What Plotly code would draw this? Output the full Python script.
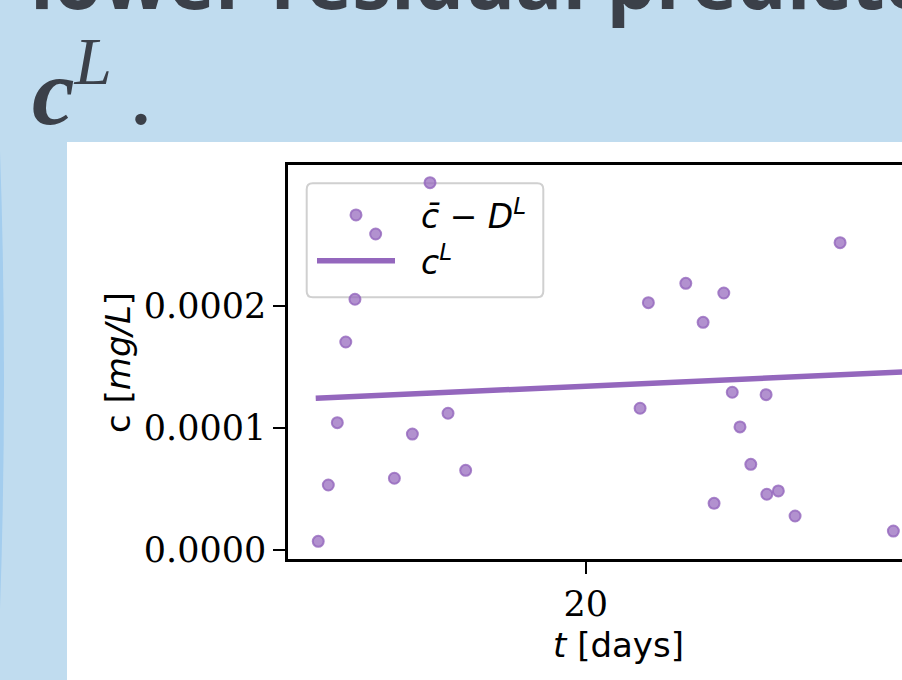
import plotly.graph_objects as go

# Observed concentration minus the lower-residual term, by day
t_days = [5.14, 5.70, 6.20, 6.67, 7.18, 8.33, 9.37, 10.37, 11.35, 12.35, 13.33,
          23.02, 23.48, 25.56, 26.52, 27.13, 27.67, 28.14, 28.57, 29.17, 30.02,
          30.06, 30.70, 31.63, 34.13, 37.09]
c_minus_DL = [0.071e-4, 0.532e-4, 1.042e-4, 1.702e-4, 2.052e-4, 2.586e-4, 0.587e-4,
              0.949e-4, 3.006e-4, 1.119e-4, 0.652e-4, 1.160e-4, 2.024e-4, 2.182e-4,
              1.863e-4, 0.382e-4, 2.103e-4, 1.291e-4, 1.007e-4, 0.701e-4, 1.271e-4,
              0.456e-4, 0.483e-4, 0.278e-4, 2.515e-4, 0.155e-4]

# Fitted lower component c^L
fit_t = [5.0, 40.0]
fit_c = [1.241e-4, 1.473e-4]

# Axis ticks
y_tickvals = [0.0, 1e-4, 2e-4]
y_ticktext = ["0.0000", "0.0001", "0.0002"]
x_tickvals = [20]
x_ticktext = ["20"]

W, H = 902, 680
PURPLE = "#9467bd"
BG_BLUE = "#c0dcef"
TEXT_DARK = "#3b4049"
NBSP = "\u00a0"
THIN = "\u2009"


def px(x):
    return x / W


def py(y):
    return 1 - y / H


def rounded_box(x0, y0, x1, y1, r):
    """SVG path (paper coords) for a rounded rectangle given in pixels."""
    pts = [
        ("M", [(x0 + r, y0)]),
        ("L", [(x1 - r, y0)]), ("Q", [(x1, y0), (x1, y0 + r)]),
        ("L", [(x1, y1 - r)]), ("Q", [(x1, y1), (x1 - r, y1)]),
        ("L", [(x0 + r, y1)]), ("Q", [(x0, y1), (x0, y1 - r)]),
        ("L", [(x0, y0 + r)]), ("Q", [(x0, y0), (x0 + r, y0)]),
    ]
    parts = []
    for cmd, coords in pts:
        parts.append(cmd + " " + " ".join(f"{px(a):.5f},{py(b):.5f}" for a, b in coords))
    return " ".join(parts) + " Z"


fig = go.Figure()

fig.add_trace(go.Scatter(
    x=t_days, y=c_minus_DL, mode="markers",
    name=NBSP * 2 + "<i>c̄</i> − <i>D</i><sup><i>L</i></sup>",
    marker=dict(size=11, color="rgba(148,103,189,0.72)",
                line=dict(color="rgba(148,103,189,0.8)", width=2)),
))
fig.add_trace(go.Scatter(
    x=fit_t, y=fit_c, mode="lines",
    name=NBSP * 2 + "<i>c</i><sup><i>L</i></sup>",
    line=dict(color=PURPLE, width=5.5),
))

axis_font = dict(family="DejaVu Serif", size=35, color="black")

fig.update_layout(
    width=W, height=H,
    margin=dict(l=0, r=0, t=0, b=0, autoexpand=False),
    paper_bgcolor=BG_BLUE,
    plot_bgcolor="white",
    showlegend=True,
    legend=dict(
        x=px(312), y=py(187), xanchor="left", yanchor="top",
        bgcolor="rgba(0,0,0,0)", borderwidth=0,
        font=dict(family="DejaVu Sans", size=33, color="black"),
        itemwidth=78,
    ),
    xaxis=dict(
        domain=[px(288), 1.0],
        range=[3.46, 37.57],
        tickvals=x_tickvals, ticktext=x_ticktext,
        tickfont=axis_font, automargin=False,
        ticks="outside", ticklen=12, tickwidth=2, tickcolor="black",
        showline=True, linecolor="black", linewidth=2.5, mirror=True,
        showgrid=False, zeroline=False,
    ),
    yaxis=dict(
        domain=[py(559), py(165)],
        range=[-0.0737e-4, 3.1506e-4],
        tickvals=y_tickvals, ticktext=y_ticktext,
        tickfont=axis_font, automargin=False,
        ticks="outside", ticklen=12, tickwidth=2, tickcolor="black",
        showline=True, linecolor="black", linewidth=2.5, mirror=False,
        showgrid=False, zeroline=False,
    ),
    shapes=[
        # white content panel
        dict(type="rect", xref="paper", yref="paper", layer="below",
             x0=px(67), x1=1.0, y0=0, y1=py(142),
             fillcolor="white", line=dict(width=0)),
        # thin accent along the left edge
        dict(type="path", xref="paper", yref="paper", layer="below",
             path=f"M 0,{py(150)} Q {px(8)},{py(380)} 0,{py(610)} Z",
             fillcolor="#a3cdee", line=dict(width=0)),
        # legend frame
        dict(type="path", xref="paper", yref="paper", layer="below",
             path=rounded_box(306.7, 183.3, 543.3, 297.3, 6),
             fillcolor="rgba(255,255,255,0.8)", line=dict(color="#d0d0d0", width=2)),
    ],
    annotations=[
        dict(text="<b>lower residual predicted</b>", xref="paper", yref="paper",
             x=px(28), y=py(34), xanchor="left", yanchor="bottom", showarrow=False,
             font=dict(family="Open Sans", size=78, color=TEXT_DARK)),
        dict(text="<b><i>c</i></b><sup><i>L</i></sup><i>" + THIN + ".</i>",
             xref="paper", yref="paper",
             x=px(30), y=py(147), xanchor="left", yanchor="bottom", showarrow=False,
             font=dict(family="Liberation Serif", size=96, color=TEXT_DARK)),
        dict(text="c [<i>mg/L</i>]", xref="paper", yref="paper",
             x=px(118), y=py(363), textangle=-90, showarrow=False,
             xanchor="center", yanchor="middle",
             font=dict(family="DejaVu Sans", size=34, color="black")),
        dict(text="<i>t</i> [days]", xref="paper", yref="paper",
             x=px(618), y=py(645), showarrow=False,
             xanchor="center", yanchor="middle",
             font=dict(family="DejaVu Sans", size=34, color="black")),
    ],
)

fig.write_html("out.html")
